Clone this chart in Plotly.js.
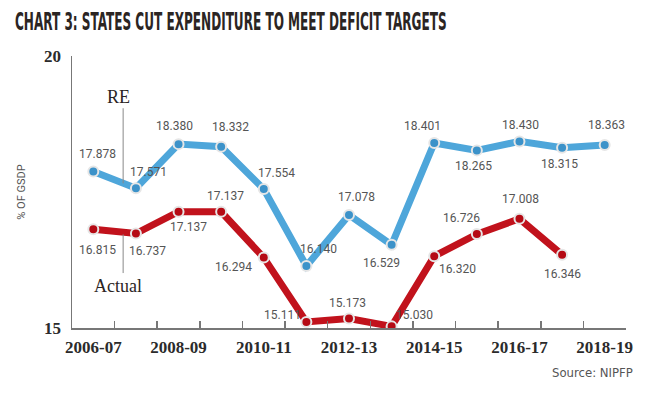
<!DOCTYPE html>
<html>
<head>
<meta charset="utf-8">
<script src="https://cdn.plot.ly/plotly-3.0.1.min.js"></script>
<style>
  html, body { margin: 0; padding: 0; background: #ffffff; }
  #chart { width: 660px; height: 396px; }
</style>
</head>
<body>
<div id="chart"></div>
<script>
// ---- Data ----
const years = ["2006-07","2007-08","2008-09","2009-10","2010-11","2011-12","2012-13",
               "2013-14","2014-15","2015-16","2016-17","2017-18","2018-19"];
const reValues = [17.878, 17.571, 18.380, 18.332, 17.554, 16.140, 17.078,
                  16.529, 18.401, 18.265, 18.430, 18.315, 18.363];
const actualValues = [16.815, 16.737, 17.137, 17.137, 16.294, 15.111, 15.173,
                      15.030, 16.320, 16.726, 17.008, 16.346];
const tickLabels = ["2006-07","","2008-09","","2010-11","","2012-13","","2014-15","","2016-17","","2018-19"];
const yTicks = [15, 20];

// ---- Label placement (pixel offsets: dx right, dy down) ----
const reOffsets = [[4,-17],[13,-16],[-4,-18],[9,-20],[13,-16],[12,-17],[7,-18],
                   [-10,18],[-12,-17],[-3,16],[1,-16],[-3,16],[2,-20]];
const actOffsets = [[4,21],[12,17],[10,15],[4,-16],[-30,9],[-24,-7],[-2,-16],
                    [23,-11],[23,13],[-15,-16],[1,-20],[0,19]];

const blue = '#4ea6da', blueMark = '#3c92c9';
const red = '#c1121c', redMark = '#b50a14';
const labelFont = {family: 'Roboto, "Open Sans", sans-serif', size: 12, color: '#555555'};

const annotations = [];
reValues.forEach((v, i) => {
  annotations.push({x: years[i], y: v, xref: 'x', yref: 'y', text: v.toFixed(3),
    showarrow: false, xshift: reOffsets[i][0], yshift: -reOffsets[i][1], font: labelFont});
});
actualValues.forEach((v, i) => {
  annotations.push({x: years[i], y: v, xref: 'x', yref: 'y', text: v.toFixed(3),
    showarrow: false, xshift: actOffsets[i][0], yshift: -actOffsets[i][1], font: labelFont});
});
const serif = {family: '"Liberation Serif", "DejaVu Serif", serif', size: 18, color: '#2b2523'};
annotations.push({x: 0.58, y: 19.24, xref: 'x', yref: 'y', text: 'RE', showarrow: false, font: serif});
annotations.push({x: 0.58, y: 15.77, xref: 'x', yref: 'y', text: 'Actual', showarrow: false, font: serif});
annotations.push({x: (635-72)/554, y: -0.165, xref: 'paper', yref: 'paper', xanchor: 'right', yanchor: 'middle',
  text: 'Source: NIPFP', showarrow: false,
  font: {family: '"Liberation Sans Narrow", "DejaVu Sans Condensed", sans-serif', size: 13, color: '#555555'}});

const shapes = [
  {type: 'line', xref: 'x', yref: 'y', x0: 0.7, x1: 0.7, y0: 19.04, y1: 17.66, line: {color: '#888888', width: 1}},
  {type: 'line', xref: 'x', yref: 'y', x0: 0.7, x1: 0.7, y0: 16.72, y1: 16.01, line: {color: '#888888', width: 1}}
];

const traces = [
  {x: years, y: reValues, type: 'scatter', mode: 'lines+markers', name: 'RE',
   line: {color: blue, width: 7},
   marker: {size: 10, color: blueMark, line: {color: '#e6e6e6', width: 2}}},
  {x: years.slice(0, actualValues.length), y: actualValues, type: 'scatter', mode: 'lines+markers', name: 'Actual',
   line: {color: red, width: 7},
   marker: {size: 10, color: redMark, line: {color: '#e6e6e6', width: 2}}}
];

const layout = {
  width: 660, height: 396,
  margin: {l: 72, r: 34, t: 56, b: 68},
  paper_bgcolor: '#ffffff', plot_bgcolor: '#ffffff',
  showlegend: false,
  title: {text: 'CHART 3: STATES CUT EXPENDITURE TO MEET DEFICIT TARGETS',
          x: 15/660, xanchor: 'left', xref: 'container',
          y: 1 - 21/396, yanchor: 'middle', yref: 'container',
          font: {family: '"Liberation Sans Narrow", "DejaVu Sans Condensed", "Liberation Sans", sans-serif',
                 size: 25, weight: 'bold', color: '#2b2523'}},
  xaxis: {type: 'category', categoryorder: 'array', categoryarray: years,
          range: [-0.5, 12.5], tickvals: years, ticktext: tickLabels,
          tickson: 'boundaries', ticks: 'inside', ticklen: 7, tickcolor: '#777777', tickwidth: 1.5,
          showline: true, linecolor: '#777777', linewidth: 1.5, showgrid: false, zeroline: false,
          tickangle: 0, ticklabelstandoff: 3,
          tickfont: {family: '"Liberation Serif", "DejaVu Serif", serif', size: 17, weight: 'bold', color: '#2b2b2b'}},
  yaxis: {range: [15, 20], tickvals: yTicks, ticktext: yTicks.map(String),
          ticks: 'inside', ticklen: 14, tickcolor: '#777777', tickwidth: 1.5,
          showline: true, linecolor: '#777777', linewidth: 1.5, showgrid: false, zeroline: false,
          ticklabelstandoff: 6,
          tickfont: {family: '"Liberation Serif", "DejaVu Serif", serif', size: 17, weight: 'bold', color: '#2b2b2b'},
          title: {text: '% OF GSDP', standoff: 16,
                  font: {family: 'Roboto, "Open Sans", sans-serif', size: 11, color: '#555555'}}},
  annotations: annotations,
  shapes: shapes
};

Plotly.newPlot('chart', traces, layout, {displayModeBar: false, staticPlot: true}).then(gd => {
  const t = gd.querySelector('.gtitle');
  if (t) {
    const w = t.getComputedTextLength();
    const x0 = parseFloat(t.getAttribute('x')) || 15;
    const sx = 432 / w;
    t.setAttribute('transform', `translate(${x0},0) scale(${sx},1) translate(${-x0},0)`);
  }
});
</script>
</body>
</html>
